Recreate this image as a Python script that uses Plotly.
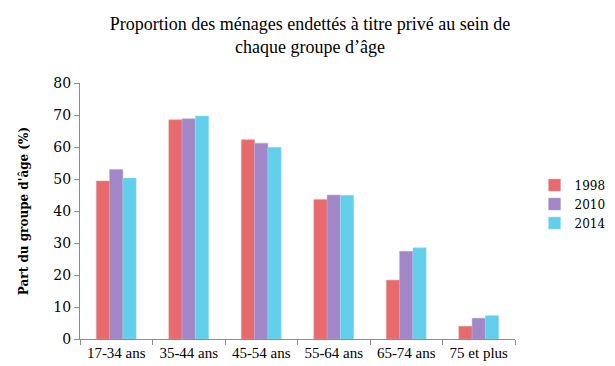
import plotly.graph_objects as go

categories = ["17-34 ans", "35-44 ans", "45-54 ans", "55-64 ans", "65-74 ans", "75 et plus"]
years = ["1998", "2010", "2014"]
values_1998 = [49.4, 68.5, 62.3, 43.6, 18.4, 4.0]
values_2010 = [53.0, 68.8, 61.2, 45.0, 27.4, 6.5]
values_2014 = [50.3, 69.7, 59.9, 44.9, 28.5, 7.3]
y_ticks = [0, 10, 20, 30, 40, 50, 60, 70, 80]

series = [values_1998, values_2010, values_2014]
colors = ["#E86A6C", "#A186C8", "#62CFEA"]
lines = ["#D9A0A0", "#B9A8D8", "#9ADCEC"]

fig = go.Figure()
for name, vals, c, lc in zip(years, series, colors, lines):
    fig.add_trace(go.Bar(
        x=categories, y=vals, name=name,
        marker=dict(color=c, line=dict(color=lc, width=0.5)),
    ))

serif = "Liberation Serif"
fig.update_layout(
    width=615, height=366,
    margin=dict(l=72, r=83, t=75, b=35),
    paper_bgcolor="white", plot_bgcolor="white",
    barmode="group", bargap=0.45, bargroupgap=0,
    title=dict(
        text="Proportion des ménages endettés à titre privé au sein de<br>chaque groupe d’âge",
        x=0.491, xanchor="center", xref="container",
        y=0.94, yanchor="top", yref="container",
        font=dict(family=serif, size=18, color="black"),
    ),
    legend=dict(
        x=1.045, xanchor="left", y=0.527, yanchor="middle",
        font=dict(family="DejaVu Serif", size=12, color="black"),
        itemwidth=30, tracegroupgap=0,
    ),
    showlegend=True,
)
fig.update_xaxes(
    showline=True, linecolor="#8C8C8C", linewidth=1,
    ticks="outside", ticklen=5, tickcolor="#8C8C8C",
    tickson="boundaries", showgrid=False, tickangle=0,
    tickfont=dict(family=serif, size=15, color="black"),
)
fig.update_yaxes(
    range=[0, 80], tickvals=y_ticks,
    showline=True, linecolor="#8C8C8C", linewidth=1,
    ticks="outside", ticklen=5, tickcolor="#8C8C8C",
    showgrid=False, zeroline=False,
    tickfont=dict(family="DejaVu Serif", size=14, color="black"),
    title=dict(text="<b>Part du groupe d'âge (%)</b>", standoff=22,
               font=dict(family="DejaVu Serif", size=12, color="black")),
)
fig.write_html("out.html")
